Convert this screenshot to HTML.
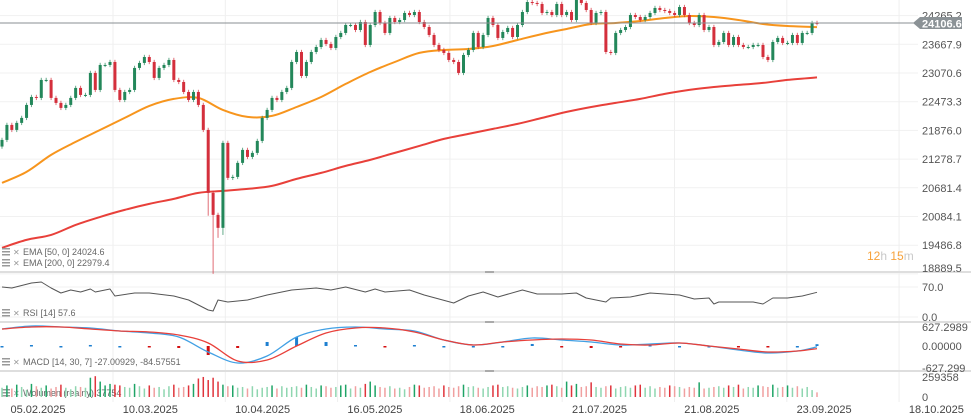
<!DOCTYPE html>
<html><head><meta charset="utf-8">
<style>
html,body{margin:0;padding:0;background:#fff;}
svg{display:block;font-family:"Liberation Sans",sans-serif;}
</style></head>
<body>
<svg id="chart" width="971" height="418" viewBox="0 0 971 418"></svg>
<script>
// ---- data ----
const closes = [21678,21990,21886,22032,22136,22406,22572,22552,22926,22926,
22552,22448,22344,22406,22552,22760,22614,22614,23072,22718,
23238,23238,23300,22718,22510,22676,22718,23176,23280,23404,
23300,22968,23176,23238,23342,22926,22884,22676,22510,22676,
22406,21886,20576,20118,19848,21616,20888,20908,21200,21470,
21324,21408,21657,22136,22302,22552,22510,22676,22760,23300,
23508,23009,23300,23508,23612,23758,23675,23592,
23820,23904,24070,24070,23966,24132,23654,24070,24340,24112,
23904,24216,24132,24174,24320,24278,24340,24132,24028,23862,
23654,23550,23488,23342,23300,23072,23446,23550,23904,23612,
23862,24216,24070,23800,23924,24008,23820,24070,24340,24548,
24528,24507,24320,24340,24278,24507,24278,24340,24174,24590,
24528,24382,24112,24320,24340,23508,23488,23904,23966,24028,
24278,24236,24174,24236,24320,
24424,24382,24361,24320,24278,24444,24278,24112,24070,24278,
23966,24028,23654,23716,23904,23654,23820,23654,23612,23612,
23654,23654,23404,23342,23716,23800,23696,23696,23862,23696,
23904,23904,24112,24107];
const firstOpen = 21540;
const extremeLowIdx = [42,43,44,45];
const extremeLowVal = [20100,18890,19640,19700];
const volumes = [120,150,110,160,130,90,170,140,120,150,110,130,160,120,100,140,130,120,250,270,
200,150,170,160,150,130,120,170,140,110,150,120,130,100,140,160,120,130,150,170,
240,260,220,250,200,160,140,150,120,130,110,140,100,120,130,150,110,140,120,130,
140,120,160,130,110,150,140,120,130,150,160,110,140,120,170,200,150,130,120,140,
110,120,100,130,160,150,120,130,140,110,150,130,120,140,160,130,140,120,110,130,
150,160,130,140,120,110,130,150,120,140,130,150,160,140,120,200,150,170,130,140,
190,130,120,140,150,110,130,140,120,150,160,120,140,110,130,120,150,140,130,110,
130,120,190,110,120,130,140,120,150,130,160,110,130,120,150,140,130,160,120,130,
150,120,140,110,130,90,60];
const emaIdx = [0,5,10,15,20,25,30,35,40,45,50,55,60,65,70,75,80,85,90,95,100,105,110,115,120,125,130,135,140,145,150,155,160,166];
const ema50 = [20784,21012,21366,21636,21886,22136,22385,22531,22552,22302,22156,22177,22364,22572,22843,23092,23300,23488,23550,23571,23633,23758,23883,23987,24091,24112,24153,24216,24257,24236,24174,24091,24049,24025];
const ema200 = [19432,19598,19702,19910,20076,20222,20347,20451,20576,20617,20659,20721,20867,20992,21137,21262,21408,21553,21699,21803,21907,22011,22136,22260,22364,22448,22531,22635,22718,22780,22822,22864,22926,22979];
const rsiIdx = [0,2,6,8,10,12,14,16,18,19,22,23,27,30,35,38,40,42,43,44,46,50,54,59,64,67,70,74,76,78,83,86,89,92,95,98,101,106,109,114,117,119,123,124,128,132,138,141,144,145,146,150,153,155,157,160,163,166];
const rsiVal = [70,67.7,79.3,81.7,67.7,56,63,58.3,65.3,58.3,65.3,49,56,56,49,39.7,28,16.3,14,39.7,35,39.7,51.3,63,67.7,63,70,58.3,65.3,58.3,63,51.3,42,32.7,49,58.3,46.7,63,53.7,53.7,56,44.3,35,44.3,46.7,56,51.3,42,44.3,30.3,35,35,35,30.3,44.3,44.3,49,57.6];
const macdIdx = [0,6,12,18,24,30,36,42,48,54,60,66,72,78,84,90,96,102,108,114,120,126,132,138,144,150,156,162,166];
const macdVal = [547,644,612,580,483,419,290,-193,-547,-322,290,547,612,547,483,193,32,129,258,193,129,32,64,97,0,-129,-225,-161,-27];
const signalVal = [547,612,612,547,483,451,354,97,-483,-451,0,419,580,580,451,193,32,129,193,225,193,64,32,97,0,-97,-193,-161,-85];
const priceTicks = [24265.2,23667.9,23070.6,22473.3,21876.0,21278.7,20681.4,20084.1,19486.8,18889.5];
const dateLabels = ["05.02.2025","10.03.2025","10.04.2025","16.05.2025","18.06.2025","21.07.2025","21.08.2025","23.09.2025","18.10.2025"];

// ---- axes ----
const svg = document.getElementById('chart');
const NS = 'http://www.w3.org/2000/svg';
const N = closes.length;
const X0 = 2, X1 = 817;
function xOf(i){ return X0 + i*(X1-X0)/(N-1); }
function yP(p){ return 44.3 - (p-23667.9)*28.7/597.3; }
function yR(v){ return 317 - v*30/70; }
function yM(v){ return 346 - v*19.5/627.3; }
function yV(v){ return 397 - v*1000*20/259358; }
function mk(tag, attrs, parent){
  const e = document.createElementNS(NS, tag);
  for (const k in attrs) e.setAttribute(k, attrs[k]);
  (parent||svg).appendChild(e);
  return e;
}
function txt(s, x, y, attrs, parent){
  const e = mk('text', Object.assign({x:x, y:y}, attrs||{}), parent);
  e.textContent = s;
  return e;
}

// grid
const grid = mk('g', {});


priceTicks.forEach(function(p){
  mk('line', {x1:0, x2:918, y1:yP(p), y2:yP(p), stroke:'#f1f1f1', 'stroke-width':1}, grid);
});
[287,317].forEach(function(y){ mk('line',{x1:0,x2:918,y1:y,y2:y,stroke:'#f1f1f1'},grid); });
for (let k=0;k<8;k++){
  const gx = 113 + k*112.3;
  mk('line', {x1:gx, x2:gx, y1:0, y2:402, stroke:'#efefef', 'stroke-width':1}, grid);
}
[272,322,371].forEach(function(y){
  const s = mk('line', {x1:0, x2:971, y1:y, y2:y, stroke:'#dedede', 'stroke-width':2});
  
  
  mk('line', {x1:485, x2:494, y1:y, y2:y, stroke:'#999', 'stroke-width':1.5});
});

// smooth line helper (Catmull-Rom)
function smoothIdx(idx, vals, yf, color, w, name){
  const P = idx.map(function(i,k){ return [xOf(i), yf(vals[k])]; });
  let d = 'M' + P[0][0].toFixed(1) + ',' + P[0][1].toFixed(1);
  for (let k=0;k<P.length-1;k++){
    const p0 = P[Math.max(0,k-1)], p1 = P[k], p2 = P[k+1], p3 = P[Math.min(P.length-1,k+2)];
    const c1x = p1[0] + (p2[0]-p0[0])/6, c1y = p1[1] + (p2[1]-p0[1])/6;
    const c2x = p2[0] - (p3[0]-p1[0])/6, c2y = p2[1] - (p3[1]-p1[1])/6;
    d += ' C' + c1x.toFixed(1)+','+c1y.toFixed(1)+' '+c2x.toFixed(1)+','+c2y.toFixed(1)+' '+p2[0].toFixed(1)+','+p2[1].toFixed(1);
  }
  const pl = mk('path', {d:d, fill:'none', stroke:color, 'stroke-width':w, 'stroke-linejoin':'round'});
  
  
  return pl;
}
function polyIdx(idx, vals, yf, color, w, name){
  const pts = idx.map(function(i,k){ return xOf(i).toFixed(1)+','+yf(vals[k]).toFixed(1); }).join(' ');
  const pl = mk('polyline', {points:pts, fill:'none', stroke:color, 'stroke-width':w, 'stroke-linejoin':'round'});
  
  
  return pl;
}
smoothIdx(emaIdx, ema200, yP, '#e8403a', 2, 'ema-200-line');
smoothIdx(emaIdx, ema50, yP, '#f7951d', 2, 'ema-50-line');

// candles
const cg = mk('g', {});


for (let i=0;i<N;i++){
  const o = i===0 ? firstOpen : closes[i-1];
  const c = closes[i];
  const up = c >= o;
  const col = up ? '#23875a' : '#d42f3c';
  const x = xOf(i);
  let hi = Math.max(o,c) + 45, lo = Math.min(o,c) - 45;
  const ei = extremeLowIdx.indexOf(i);
  if (ei >= 0) lo = extremeLowVal[ei];
  mk('line', {x1:x, x2:x, y1:yP(hi), y2:yP(lo), stroke:col, 'stroke-width':1, opacity:0.7}, cg);
  const yt = yP(Math.max(o,c)), yb = yP(Math.min(o,c));
  const b = mk('rect', {x:x-1.5, y:yt, width:3, height:Math.max(1, yb-yt), fill:col}, cg);
  
  
}

// current price line
const cl = mk('line', {x1:0, x2:914, y1:23, y2:23, stroke:'#8a8f93', 'stroke-width':1});



priceTicks.forEach(function(p, k){
  const y = k===priceTicks.length-1 ? 272 : yP(p)+4;
  const t = txt(p.toFixed(1), 922, y, {'font-size':11, fill:'#555'});
  
  
});
const tag = mk('g', {});


mk('polygon', {points:'913,23 920,17 962,17 962,29 920,29', fill:'#8b9296'}, tag);
txt('24106.6', 922, 27.5, {'font-size':11, 'font-weight':'bold', fill:'#fff'}, tag);

const cd = txt('', 867, 260, {'font-size':12});


cd.innerHTML = '<tspan fill="#f7a23b">12</tspan><tspan fill="#c9c9c9">h </tspan><tspan fill="#f7a23b">15</tspan><tspan fill="#c9c9c9">m</tspan>';

function legend(s, y, name){
  const g = mk('g', {});
  
  
  mk('rect', {x:2, y:y-7, width:8, height:1.5, fill:'#999'}, g);
  mk('rect', {x:2, y:y-4, width:8, height:1.5, fill:'#999'}, g);
  mk('rect', {x:2, y:y-1, width:8, height:1.5, fill:'#999'}, g);
  txt('✕', 13, y, {'font-size':8, fill:'#999'}, g);
  txt(s, 23, y, {'font-size':9, fill:'#666'}, g);
}
legend('EMA [50, 0] 24024.6', 255, 'ema-50-legend');
legend('EMA [200, 0] 22979.4', 266, 'ema-200-legend');
legend('RSI [14] 57.6', 316, 'rsi-legend');
legend('MACD [14, 30, 7] -27.00929, -84.57551', 365, 'macd-legend');
legend('Wolumen (realny) 37754', 396, 'volume-legend');

polyIdx(rsiIdx, rsiVal, yR, '#555', 1, 'rsi-line');
[['70.0',291],['0.0',321]].forEach(function(a){
  const t = txt(a[0], 922, a[1], {'font-size':11, fill:'#555'});
  
  
});

const hg = mk('g', {});


macdIdx.forEach(function(i,k){
  const h = macdVal[k]-signalVal[k];
  const y0 = yM(0), y1 = yM(h);
  const r = mk('rect', {x:xOf(i)-1.5, y:Math.min(y0,y1), width:3, height:Math.max(1.5, Math.abs(y1-y0)), fill: h>=0 ? '#1e7fd0' : '#d40f10'}, hg);
  
  
});
smoothIdx(macdIdx, macdVal, yM, '#41a0e4', 1.3, 'macd-line');
smoothIdx(macdIdx, signalVal, yM, '#e8403a', 1.3, 'macd-signal-line');
[['627.2989',331],['0.00000',350],['-627.299',372]].forEach(function(a){
  const t = txt(a[0], 922, a[1], {'font-size':11, fill:'#555'});
  
  
});

const vg = mk('g', {});


for (let i=0;i<N;i++){
  const o = i===0 ? firstOpen : closes[i-1];
  const up = closes[i] >= o;
  const strong = volumes[i] >= 150;
  const col = up ? (strong ? '#1fa466' : '#8fd6b0') : (strong ? '#e0343c' : '#f0a0a0');
  const y = yV(volumes[i]);
  const r = mk('rect', {x:xOf(i)-0.75, y:y, width:1.5, height:397-y, fill:col}, vg);
  
  
}
[['259358',381],['0',401]].forEach(function(a){
  const t = txt(a[0], 922, a[1], {'font-size':11, fill:'#555'});
  
  
});

dateLabels.forEach(function(d, k){
  const t = txt(d, 38 + k*112.3, 413, {'font-size':11, fill:'#444', 'text-anchor':'middle'});
  
  
});
</script>
</body></html>
